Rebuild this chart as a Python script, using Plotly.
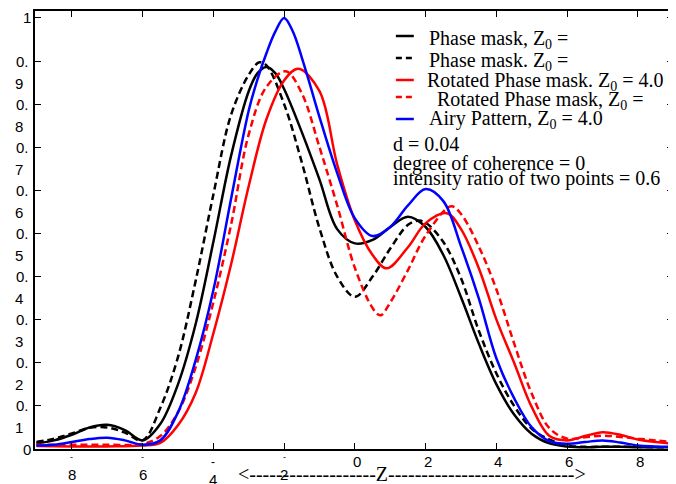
import plotly.graph_objects as go

# ---------------- data ----------------
pm_x = [-9, -8.5, -8, -7.5, -7, -6.5, -6, -5.5, -5, -4.5, -4, -3.5, -3, -2.75, -2.5, -2.25, -2,
        -1.5, -1, -0.5, 0, 0.5, 1, 1.5, 2, 2.5, 3, 3.5, 4, 4.5, 5, 5.5, 6, 6.5, 7, 7.5, 8, 8.5, 9]
pm_y = [0.013, 0.02, 0.033, 0.05, 0.056, 0.044, 0.02, 0.058, 0.15, 0.29, 0.48, 0.68, 0.83, 0.872,
        0.886, 0.872, 0.835, 0.735, 0.625, 0.51, 0.477, 0.485, 0.515, 0.539, 0.515, 0.45, 0.352,
        0.245, 0.15, 0.08, 0.035, 0.013, 0.006, 0.004, 0.005, 0.005, 0.004, 0.004, 0.004]

pmd_x = [-9, -8.5, -8, -7.5, -7, -6.5, -6, -5.5, -5, -4.5, -4, -3.5, -3, -2.7, -2.5, -2, -1.5, -1,
         -0.5, 0, 0.5, 1, 1.5, 1.8, 2, 2.5, 3, 3.5, 4, 4.5, 5, 5.5, 6, 6.5, 7, 7.5, 8, 8.5, 9]
pmd_y = [0.016, 0.024, 0.036, 0.049, 0.05, 0.038, 0.02, 0.095, 0.213, 0.39, 0.59, 0.775, 0.868,
         0.897, 0.89, 0.80, 0.665, 0.512, 0.40, 0.353, 0.40, 0.465, 0.52, 0.53, 0.525, 0.48, 0.396,
         0.275, 0.175, 0.10, 0.047, 0.022, 0.008, 0.005, 0.005, 0.005, 0.005, 0.004, 0.004]

rpm_x = [-9, -8, -7, -6, -5.5, -5, -4.5, -4, -3.5, -3, -2.5, -2, -1.6, -1, -0.5, 0, 0.5, 0.9,
         1.5, 2, 2.6, 3, 3.5, 4, 4.5, 5, 5.5, 6, 6.5, 7, 7.5, 8, 8.5, 9]
rpm_y = [0.007, 0.006, 0.006, 0.008, 0.014, 0.055, 0.13, 0.268, 0.428, 0.61, 0.765, 0.855, 0.882,
         0.83, 0.66, 0.53, 0.45, 0.419, 0.468, 0.524, 0.547, 0.51, 0.42, 0.30, 0.2, 0.097, 0.03,
         0.02, 0.03, 0.039, 0.033, 0.022, 0.016, 0.012]

rpmd_x = [-9, -8, -7, -6, -5.5, -5, -4.5, -4, -3.5, -3, -2.5, -1.95, -1.5, -1, -0.5, 0, 0.5, 0.72,
          1, 1.5, 2, 2.72, 3, 3.5, 4, 4.5, 5, 5.5, 6, 6.5, 7, 7.5, 8, 8.5, 9]
rpmd_y = [0.01, 0.01, 0.01, 0.012, 0.03, 0.085, 0.19, 0.34, 0.52, 0.73, 0.84, 0.876, 0.825, 0.70,
          0.565, 0.42, 0.327, 0.31, 0.34, 0.415, 0.495, 0.563, 0.545, 0.47, 0.37, 0.245, 0.128,
          0.048, 0.024, 0.027, 0.031, 0.028, 0.024, 0.02, 0.016]

airy_x = [-9, -8.5, -8, -7.5, -7, -6.5, -6, -5.5, -5, -4.5, -4, -3.5, -3, -2.75, -2.5, -2.25, -2,
          -1.75, -1.5, -1.25, -1, -0.5, 0, 0.5, 1, 1.5, 2, 2.5, 3, 3.5, 4, 4.5, 5, 5.5, 6, 6.5, 7,
          7.5, 8, 8.5, 9]
airy_y = [0.008, 0.01, 0.016, 0.023, 0.026, 0.02, 0.01, 0.02, 0.085, 0.206, 0.368, 0.58, 0.785,
          0.858, 0.918, 0.968, 1.0, 0.968, 0.908, 0.84, 0.77, 0.64, 0.535, 0.494, 0.515, 0.565,
          0.603, 0.575, 0.47, 0.35, 0.21, 0.118, 0.05, 0.018, 0.012, 0.016, 0.02, 0.015, 0.008,
          0.006, 0.005]

legend_names = ["Phase mask, Z<sub>0</sub> =",
                "Phase mask. Z<sub>0</sub> =",
                "Rotated Phase mask. Z<sub>0</sub> = 4.0",
                " Rotated Phase mask, Z<sub>0</sub> =",
                "Airy Pattern, Z<sub>0</sub> = 4.0"]
info_lines = ["d = 0.04", "degree of coherence = 0", "intensity ratio of two points = 0.6"]

x_ticks = [-8, -6, -4, -2, 0, 2, 4, 6, 8]
y_ticks = [0, 0.1, 0.2, 0.3, 0.4, 0.5, 0.6, 0.7, 0.8, 0.9, 1.0]
x_range = [-9.04, 8.99]
y_range = [0, 1.016]

# ---------------- layout geometry ----------------
# the page body keeps its default 8px margin, so the figure starts at (8, 8)
OFF = 8
W, H = 676 - OFF, 484 - OFF
ML, MR, MT, MB = 35 - OFF, 1, 11 - OFF, 35
PW, PH = W - ML - MR, H - MT - MB


def fx(px):
    """page pixel x -> paper fraction"""
    return (px - OFF - ML) / PW


def fy(py):
    """page pixel y -> paper fraction"""
    return (H - MB - (py - OFF)) / PH


SANS = "Liberation Sans, Arial, sans-serif"
SERIF = "Liberation Serif, Times New Roman, serif"
DASH = "7px,4px"

series = [
    (pm_x, pm_y, "black", "solid"),
    (pmd_x, pmd_y, "black", DASH),
    (rpm_x, rpm_y, "#ff0000", "solid"),
    (rpmd_x, rpmd_y, "#ff0000", DASH),
    (airy_x, airy_y, "#0000ff", "solid"),
]

fig = go.Figure()
for (xs, ys, col, dsh), name in zip(series, legend_names):
    fig.add_trace(go.Scatter(x=xs, y=ys, mode="lines", name=name, showlegend=False,
                             line=dict(color=col, width=2.5, dash=dsh, shape="spline",
                                       smoothing=1.0)))

annotations = []
shapes = []

# legend (line samples + labels)
legend_sample_y = [36, 58, 80, 97, 119]
legend_text_y = [40, 61, 81.5, 100.5, 120]
legend_text_x = [428, 428, 426, 431, 428]
for (xs, ys, col, dsh), name, sy, ty, tx in zip(series, legend_names, legend_sample_y,
                                                  legend_text_y, legend_text_x):
    shapes.append(dict(type="line", xref="paper", yref="paper", x0=fx(397), x1=fx(415),
                       y0=fy(sy), y1=fy(sy),
                       line=dict(color=col, width=2.5,
                                 dash="6px,4px" if dsh != "solid" else "solid")))
    annotations.append(dict(text=name, xref="paper", yref="paper", x=fx(tx), y=fy(ty),
                            xanchor="left", yanchor="middle", showarrow=False,
                            font=dict(family=SERIF, size=20, color="black")))

for txt, ty in zip(info_lines, [144, 163.5, 178.5]):
    annotations.append(dict(text=txt, xref="paper", yref="paper", x=fx(392), y=fy(ty),
                            xanchor="left", yanchor="middle", showarrow=False,
                            font=dict(family=SERIF, size=20, color="black")))

# y tick labels
for v in y_ticks:
    s = f"{v:.1f}"
    if v in (0, 1.0):
        annotations.append(dict(text=str(int(v)), xref="paper", yref="y", x=fx(33), y=v,
                                xanchor="right", yanchor="middle", showarrow=False,
                                font=dict(family=SANS, size=15, color="black")))
    else:
        head, digit = s[:2], s[2:]
        annotations.append(dict(text=head, xref="paper", yref="y", x=fx(31), y=v,
                                xanchor="right", yanchor="middle", showarrow=False,
                                font=dict(family=SANS, size=15, color="black")))
        annotations.append(dict(text=digit, xref="paper", yref="y", x=fx(13), y=v,
                                xanchor="left", yanchor="middle", yshift=-22, showarrow=False,
                                font=dict(family=SANS, size=15, color="black")))

# x tick labels
for v in x_ticks:
    if v >= 0:
        annotations.append(dict(text=str(v), xref="x", yref="paper", x=v, y=fy(461),
                                xanchor="center", yanchor="middle", xshift=2, showarrow=False,
                                font=dict(family=SANS, size=15, color="black")))
    else:
        minus_y, digit_y = (462, 480) if v == -4 else (457, 474)
        annotations.append(dict(text="-", xref="x", yref="paper", x=v, y=fy(minus_y),
                                xanchor="center", yanchor="middle", showarrow=False,
                                font=dict(family=SANS, size=12 if v == -4 else 9, color="black")))
        annotations.append(dict(text=str(-v), xref="x", yref="paper", x=v, y=fy(digit_y),
                                xanchor="center", yanchor="middle", showarrow=False,
                                font=dict(family=SANS, size=15, color="black")))

# axis title with arrow
annotations.append(dict(text="&lt;" + "-" * 19 + "Z" + "-" * 28 + "&gt;", xref="paper",
                        yref="paper", x=fx(237), y=fy(474), xanchor="left", yanchor="middle",
                        showarrow=False, font=dict(family=SERIF, size=20, color="black")))

axis_common = dict(showline=True, linecolor="black", linewidth=1.8, mirror="ticks",
                   ticks="inside", ticklen=6, tickwidth=1, tickcolor="black",
                   showgrid=False, zeroline=False, showticklabels=False)

fig.update_layout(
    width=W, height=H,
    margin=dict(l=ML, r=MR, t=MT, b=MB, pad=0),
    paper_bgcolor="white", plot_bgcolor="white",
    xaxis=dict(range=x_range, tickvals=x_ticks, **axis_common),
    yaxis=dict(range=y_range, tickvals=y_ticks, **axis_common),
    annotations=annotations,
    shapes=shapes,
    showlegend=False,
)

fig.write_html("out.html")
